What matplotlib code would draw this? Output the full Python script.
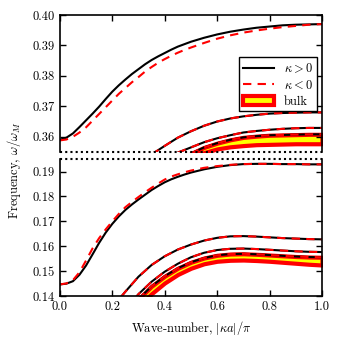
import numpy as np
import matplotlib
matplotlib.use("Agg")
import matplotlib.pyplot as plt
from matplotlib.patches import Patch
from matplotlib.lines import Line2D
from matplotlib.ticker import FormatStrFormatter

plt.rcParams['font.family'] = 'serif'
plt.rcParams['font.serif'] = ['cmr10']
plt.rcParams['mathtext.fontset'] = 'cm'
plt.rcParams['axes.unicode_minus'] = False
plt.rcParams['axes.formatter.use_mathtext'] = True
plt.rcParams['font.size'] = 9
plt.rcParams['axes.linewidth'] = 1.2

nan = np.nan

# wave-number grid for the edge modes (finer near k = 0), |ka|/pi
x_edge = [0.000, 0.025, 0.050, 0.075, 0.100, 0.125, 0.150, 0.175, 0.200, 0.225, 0.250,
          0.275, 0.300, 0.325, 0.350, 0.375, 0.400, 0.425, 0.450, 0.475, 0.500,
          0.55, 0.60, 0.65, 0.70, 0.75, 0.80, 0.85, 0.90, 0.95, 1.00]

hi_top_pos = [0.3590, 0.3597, 0.3611, 0.3632, 0.3654, 0.3676, 0.3699, 0.3724, 0.3748, 0.3769, 0.3788,
              0.3806, 0.3822, 0.3838, 0.3852, 0.3864, 0.3875, 0.3886, 0.3896, 0.3904, 0.3912,
              0.3925, 0.3936, 0.3945, 0.3952, 0.3958, 0.3962, 0.3966, 0.3968, 0.3969, 0.3970]
hi_top_neg = [0.3588, 0.3591, 0.3600, 0.3614, 0.3631, 0.3653, 0.3675, 0.3697, 0.3719, 0.3741, 0.3760,
              0.3779, 0.3796, 0.3814, 0.3829, 0.3843, 0.3855, 0.3866, 0.3876, 0.3885, 0.3893,
              0.3908, 0.3922, 0.3933, 0.3942, 0.3949, 0.3955, 0.3960, 0.3964, 0.3968, 0.3970]
lo_top_pos = [0.1447, 0.1450, 0.1460, 0.1486, 0.1523, 0.1568, 0.1614, 0.1655, 0.1690, 0.1720, 0.1746,
              0.1768, 0.1788, 0.1807, 0.1826, 0.1842, 0.1857, 0.1869, 0.1879, 0.1888, 0.1896,
              0.1909, 0.1919, 0.1926, 0.1930, 0.1931, 0.1931, 0.1930, 0.1930, 0.1929, 0.1929]
lo_top_neg = [0.1447, 0.1451, 0.1464, 0.1496, 0.1543, 0.1592, 0.1633, 0.1668, 0.1700, 0.1730, 0.1757,
              0.1778, 0.1798, 0.1817, 0.1835, 0.1852, 0.1868, 0.1880, 0.1889, 0.1897, 0.1904,
              0.1915, 0.1922, 0.1927, 0.1930, 0.1931, 0.1931, 0.1930, 0.1930, 0.1929, 0.1929]

# wave-number grid for the band modes
x = [0.00, 0.05, 0.10, 0.15, 0.20, 0.25, 0.30, 0.35, 0.40, 0.45, 0.50,
     0.55, 0.60, 0.65, 0.70, 0.75, 0.80, 0.85, 0.90, 0.95, 1.00]

hi_mode_a = [nan, nan, nan, nan, nan, nan, nan, 0.3542, 0.3570, 0.3597, 0.3618,
             0.3636, 0.3650, 0.3660, 0.3667, 0.3672, 0.3676, 0.3678, 0.3679, 0.3680, 0.3680]
hi_mode_b = [nan, nan, nan, nan, nan, nan, nan, nan, nan, 0.3548, 0.3565,
             0.3582, 0.3595, 0.3605, 0.3614, 0.3619, 0.3623, 0.3626, 0.3628, 0.3629, 0.3629]
hi_bulk_up = [nan, nan, nan, nan, nan, nan, nan, nan, nan, nan, 0.3545,
              0.3565, 0.3579, 0.3590, 0.3598, 0.3602, 0.3605, 0.3606, 0.3607, 0.3608, 0.3608]
hi_bulk_lo = [nan, nan, nan, nan, nan, nan, nan, nan, nan, nan, 0.3535,
              0.3548, 0.3560, 0.3567, 0.3571, 0.3574, 0.3575, 0.3576, 0.3577, 0.3577, 0.3577]

lo_mode_a = [nan, nan, nan, nan, 0.1355, 0.1418, 0.1478, 0.1525, 0.1560, 0.1587, 0.1607,
             0.1623, 0.1634, 0.1640, 0.1641, 0.1639, 0.1636, 0.1633, 0.1631, 0.1629, 0.1628]
lo_mode_b = [nan, nan, nan, nan, nan, 0.1345, 0.1408, 0.1458, 0.1498, 0.1530, 0.1556,
             0.1574, 0.1585, 0.1590, 0.1591, 0.1589, 0.1586, 0.1583, 0.1580, 0.1578, 0.1577]
lo_bulk_up = [nan, nan, nan, nan, nan, nan, 0.1388, 0.1440, 0.1480, 0.1512, 0.1536,
              0.1553, 0.1564, 0.1569, 0.1570, 0.1568, 0.1565, 0.1562, 0.1559, 0.1557, 0.1556]
lo_bulk_lo = [nan, nan, nan, nan, nan, nan, 0.1360, 0.1410, 0.1453, 0.1487, 0.1512,
              0.1530, 0.1540, 0.1544, 0.1545, 0.1543, 0.1540, 0.1536, 0.1532, 0.1528, 0.1525]

x = np.array(x)
dash = (0, (4, 3))

fig = plt.figure(figsize=(3.4, 3.4), dpi=100)
ax1 = fig.add_axes([0.176, 0.553, 0.771, 0.403])
ax2 = fig.add_axes([0.176, 0.129, 0.771, 0.403])

def draw(ax, bulk_lo, bulk_up, modes, top_pos, top_neg):
    lo = np.array(bulk_lo, dtype=float)
    up = np.array(bulk_up, dtype=float)
    ok = ~np.isnan(lo)
    ax.fill_between(x[ok], lo[ok], up[ok], facecolor='yellow', edgecolor='red', lw=3)
    for m in modes + [bulk_up]:
        ax.plot(x, m, color='black', lw=1.5)
        ax.plot(x, m, color='red', lw=1.5, linestyle=dash)
    ax.plot(x_edge, top_pos, color='black', lw=1.5)
    ax.plot(x_edge, top_neg, color='red', lw=1.5, linestyle=dash)
    ax.set_xlim(0, 1)

draw(ax1, hi_bulk_lo, hi_bulk_up, [hi_mode_a, hi_mode_b], hi_top_pos, hi_top_neg)
draw(ax2, lo_bulk_lo, lo_bulk_up, [lo_mode_a, lo_mode_b], lo_top_pos, lo_top_neg)

ax1.set_ylim(0.355, 0.40)
ax1.set_yticks([0.36, 0.37, 0.38, 0.39, 0.40])
ax2.set_ylim(0.14, 0.195)
ax2.set_yticks([0.14, 0.15, 0.16, 0.17, 0.18, 0.19])
for ax in (ax1, ax2):
    ax.set_xticks([0.0, 0.2, 0.4, 0.6, 0.8, 1.0])
    ax.yaxis.set_major_formatter(FormatStrFormatter('%.2f'))
    ax.xaxis.set_major_formatter(FormatStrFormatter('%.1f'))
    ax.tick_params(direction='in', length=4, width=1, right=True)

ax1.tick_params(top=True, bottom=False, labelbottom=False)
ax2.tick_params(top=False)
# broken-axis edges drawn as dotted lines
for sp in (ax1.spines['bottom'], ax2.spines['top']):
    sp.set_linestyle((0, (1, 1.5)))
    sp.set_linewidth(1.5)
    sp.set_capstyle('butt')

handles = [Line2D([], [], color='black', lw=1.5),
           Line2D([], [], color='red', lw=1.5, linestyle=dash),
           Patch(facecolor='yellow', edgecolor='red', lw=3)]
leg = ax1.legend(handles, [r'$\kappa > 0$', r'$\kappa < 0$', 'bulk'],
                 loc='upper right', bbox_to_anchor=(0.981, 0.69),
                 fancybox=False, framealpha=1, edgecolor='black',
                 handlelength=2.5, borderaxespad=0, borderpad=0.3,
                 labelspacing=0.3)
leg.get_frame().set_linewidth(1.0)

ax2.set_xlabel(r'Wave-number, $|\kappa a|/\pi$')
fig.text(0.04, 0.5, r'Frequency, $\omega/\omega_M$', rotation=90, va='center', ha='center')

fig.savefig('out.png', dpi=100)
